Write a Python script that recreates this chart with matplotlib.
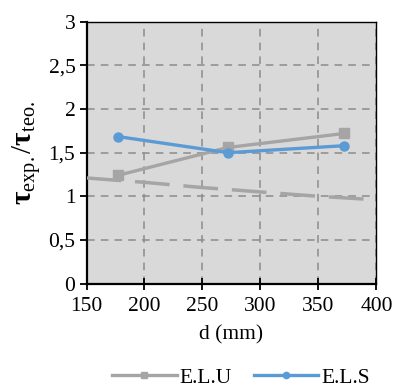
import matplotlib
matplotlib.use("Agg")
import matplotlib.pyplot as plt
from matplotlib.lines import Line2D

plt.rcParams['font.family'] = ['Liberation Serif', 'DejaVu Serif']
plt.rcParams['mathtext.fontset'] = 'custom'
plt.rcParams['mathtext.rm'] = 'Liberation Serif'
plt.rcParams['mathtext.it'] = 'Liberation Serif:italic'
plt.rcParams['mathtext.bf'] = 'Liberation Serif:bold'

d_points = [177, 272, 372]
elu = [1.24, 1.56, 1.72]
els = [1.685, 1.50, 1.58]
trend_d = [150, 200, 250, 300, 350, 400]
trend_v = [1.21, 1.16, 1.10, 1.05, 1.00, 0.96]

x_ticks = [150, 200, 250, 300, 350, 400]
y_ticks = [0, 0.5, 1, 1.5, 2, 2.5, 3]
y_labels = ['0', '0,5', '1', '1,5', '2', '2,5', '3']

gray = '#a5a5a5'
blue = '#5b9bd5'

fig = plt.figure(figsize=(3.95, 3.90), dpi=100)
ax = fig.add_axes([0.219, 0.273, 0.734, 0.671])
ax.set_facecolor('#d9d9d9')

ax.plot(trend_d, trend_v, color=gray, lw=2.5, dashes=(10, 4), zorder=3)
ax.plot(d_points, elu, color=gray, lw=2.4, marker='s', ms=6.5, zorder=4)
ax.plot(d_points, els, color=blue, lw=2.4, marker='o', ms=6.5, zorder=5)

ax.set_xlim(150, 400)
ax.set_ylim(0, 3)
ax.set_xticks(x_ticks)
ax.set_yticks(y_ticks)
ax.set_yticklabels(y_labels)
ax.grid(True, color='#8c8c8c', lw=1.1, ls=(0, (5, 4)), zorder=1)
ax.set_axisbelow(True)

for s in ax.spines.values():
    s.set_color('black')
    s.set_linewidth(1.0)
ax.spines['left'].set_linewidth(1.6)
ax.spines['bottom'].set_linewidth(1.6)

ax.tick_params(axis='both', labelsize=15.5, colors='black', width=1.3)
ax.tick_params(axis='x', direction='inout', length=9, pad=5)
ax.tick_params(axis='y', direction='out', length=5, pad=3)

ax.set_xlabel('d (mm)', fontsize=15.5, labelpad=7)
ax.set_ylabel(r'$\mathbf{τ}_{\mathrm{exp.}}/\mathbf{τ}_{\mathrm{teo.}}$', fontsize=21, labelpad=4)

handles = [
    Line2D([], [], color=gray, lw=2.4, marker='s', ms=4.5),
    Line2D([], [], color=blue, lw=2.4, marker='o', ms=4.5),
]
fig.legend(handles, ['E.L.U', 'E.L.S'], loc='center', bbox_to_anchor=(0.61, 0.032),
           ncol=2, frameon=False, fontsize=15.5, handlelength=3.0, handletextpad=0.15,
           columnspacing=1.0)

fig.savefig('out.png', dpi=100)
